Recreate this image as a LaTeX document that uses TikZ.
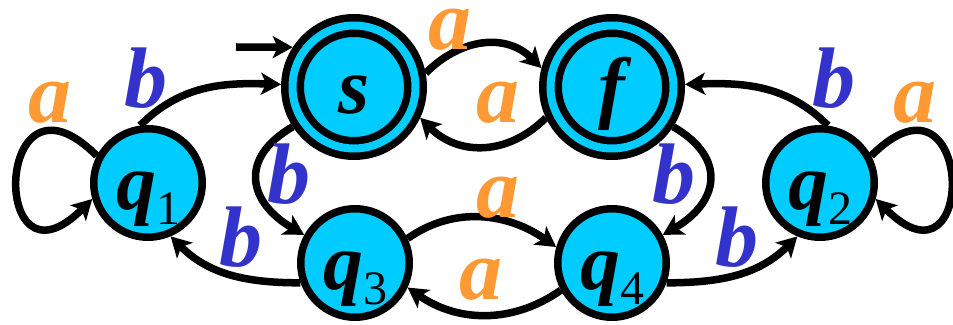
\documentclass[tikz,border=0pt]{standalone}
\usepackage{fontspec}
\setmainfont{Liberation Serif}
\usetikzlibrary{arrows.meta}
\definecolor{stcyan}{HTML}{00CCFF}
\definecolor{lblorange}{HTML}{FF9933}
\definecolor{lblblue}{HTML}{3333CC}
\newcommand{\stlbl}[1]{\raisebox{-27pt}[0pt][0pt]{#1}}
\newcommand{\qsub}[1]{q\raisebox{-15pt}{\fontsize{48}{48}\selectfont\mdseries\upshape #1}}
\begin{document}
\begin{tikzpicture}[x=1pt, y=1pt,
  font=\fontsize{80}{80}\selectfont\bfseries\itshape,
  qstate/.style={circle, draw, fill=stcyan, line width=7.5pt, minimum size=108.5pt, inner sep=0pt},
  fstate/.style={qstate, double=stcyan, double distance=8pt, minimum size=123pt, outer sep=11.5pt},
  tr/.style={line width=7.5pt, -{Stealth[length=20pt,width=22pt,inset=5pt]}},
  la/.style={lblorange, inner sep=1pt, font=\fontsize{86}{86}\selectfont\bfseries\itshape},
  lb/.style={lblblue, inner sep=1pt, font=\fontsize{86}{86}\selectfont\bfseries\itshape}]
\useasboundingbox (0,0) rectangle (953,324);
\node[fstate] (s) at (354,237) {\stlbl{s}};
\node[fstate] (f) at (612,237) {\stlbl{f}};
\node[qstate] (q1) at (148,141) {\stlbl{\qsub{1}}};
\node[qstate] (q2) at (820,141) {\stlbl{\qsub{2}}};
\node[qstate] (q3) at (355,61) {\stlbl{\qsub{3}}};
\node[qstate] (q4) at (612,61) {\stlbl{\qsub{4}}};
\coordinate (init) at (236,277);
\draw[tr] (init) -- (s.147);
\draw[tr] (s.11) to[out=45,in=135,looseness=1.1] (f.165);
\draw[tr] (f.205) to[out=225,in=-45,looseness=1.1] (s.-25);
\draw[tr] (q1.98) to[out=45,in=178] (s.178);
\draw[tr] (q2.82) to[out=135,in=2] (f.2);
\draw[tr] (s.213) to[out=210,in=150,looseness=1.5] (q3.151);
\draw[tr] (f.-33) to[out=-30,in=30,looseness=1.5] (q4.29);
\draw[tr] (q3.200) to[out=180,in=-45] (q1.293);
\draw[tr] (q4.-20) to[out=0,in=225] (q2.247);
\draw[tr] (q3.25) to[out=35,in=145] (q4.164);
\draw[tr] (q4.208) to[out=215,in=-35] (q3.-25);
\draw[tr] (q1.152) to[out=135,in=225,looseness=8.6] (q1.196);
\draw[tr] (q2.28) to[out=45,in=-45,looseness=8.6] (q2.344);
\node[la] (a1) at (450,294) {a};
\node[la] (a2) at (498,221) {a};
\node[lb] (b1) at (146,246) {b};
\node[la] (a3) at (50,221) {a};
\node[lb] (b2) at (289,150) {b};
\node[lb] (b3) at (241,87) {b};
\node[la] (a4) at (498,126) {a};
\node[la] (a5) at (481,44) {a};
\node[lb] (b4) at (674,150) {b};
\node[lb] (b5) at (737,87) {b};
\node[lb] (b6) at (834,246) {b};
\node[la] (a6) at (915,221) {a};
\end{tikzpicture}
\end{document}
